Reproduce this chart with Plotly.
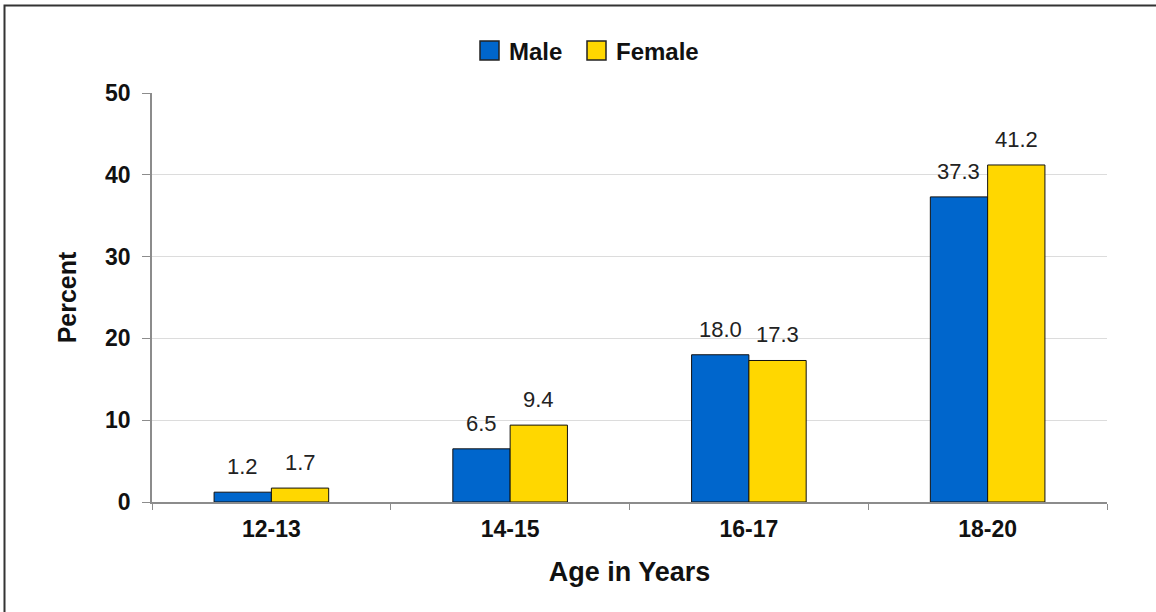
import plotly.graph_objects as go

age_groups = ["12-13", "14-15", "16-17", "18-20"]
male = [1.2, 6.5, 18.0, 37.3]
female = [1.7, 9.4, 17.3, 41.2]
y_ticks = [0, 10, 20, 30, 40, 50]
series = [("Male", male, "#0066CC"), ("Female", female, "#FFD700")]

W, H = 1156, 612
ML, MR, MT, MB = 152, 49, 93, 110
PW, PH = W - ML - MR, H - MT - MB
BARGAP = 0.52
BAR_PX = PW / len(age_groups) * (1 - BARGAP) / 2
FONT = "Liberation Sans, Arial, sans-serif"


def px_x(px):
    return (px - ML) / PW


def px_y(py):
    return (H - MB - py) / PH


fig = go.Figure()
for i, (name, vals, color) in enumerate(series):
    fig.add_trace(go.Bar(
        x=age_groups, y=vals, name=name,
        marker=dict(color=color, line=dict(color="#111111", width=1)),
        showlegend=False,
    ))
    # value labels, lifted well above the bar tops as in the original
    shift = (i - 0.5) * BAR_PX
    for cat, v in zip(age_groups, vals):
        fig.add_annotation(x=cat, y=v, xref="x", yref="y", text=f"{v:.1f}",
                           showarrow=False, xshift=shift, yshift=11, yanchor="bottom",
                           font=dict(family=FONT, size=22, color="#222222"))

# hand-drawn legend with large outlined squares
legend_pos = [(480, 507), (587, 614)]
for (name, _, color), (sq, tx) in zip(series, legend_pos):
    fig.add_shape(type="rect", xref="paper", yref="paper",
                  x0=px_x(sq), x1=px_x(sq + 19), y0=px_y(41), y1=px_y(60),
                  fillcolor=color, line=dict(color="#222222", width=1.5))
    fig.add_annotation(x=px_x(tx), y=px_y(51), xref="paper", yref="paper", text=name,
                       showarrow=False, xanchor="left", yanchor="middle",
                       font=dict(family=FONT, size=24, color="#111111", weight="bold"))

# outer frame (runs off the right and bottom edges as in the reference)
fig.add_shape(type="rect", xref="paper", yref="paper",
              x0=px_x(4.5), x1=px_x(1170), y0=px_y(5.5), y1=px_y(630),
              line=dict(color="#333333", width=2), layer="below")

fig.update_layout(
    width=W, height=H,
    margin=dict(l=ML, r=MR, t=MT, b=MB),
    paper_bgcolor="white", plot_bgcolor="white",
    barmode="group", bargap=BARGAP, bargroupgap=0,
    font=dict(family=FONT, color="#111111"),
    showlegend=False,
    xaxis=dict(
        showline=True, linecolor="#8c8c8c", linewidth=1.5,
        ticks="outside", tickson="boundaries", ticklen=6, tickcolor="#8c8c8c",
        tickfont=dict(size=23, weight="bold"),
        ticklabelstandoff=6,
        title=dict(text="Age in Years", font=dict(size=27, weight="bold"), standoff=21),
    ),
    yaxis=dict(
        range=[0, 50], tickvals=y_ticks,
        showline=True, linecolor="#8c8c8c", linewidth=1.5,
        ticks="outside", ticklen=8, tickcolor="#8c8c8c",
        showgrid=True, gridcolor="#dcdcdc", gridwidth=1,
        zeroline=False,
        tickfont=dict(size=23, weight="bold"),
        ticklabelstandoff=7,
        title=dict(text="Percent", font=dict(size=25, weight="bold"), standoff=21),
    ),
)

fig.write_html("out.html", config={"displayModeBar": False},
               post_script="document.body.style.margin='0';")
